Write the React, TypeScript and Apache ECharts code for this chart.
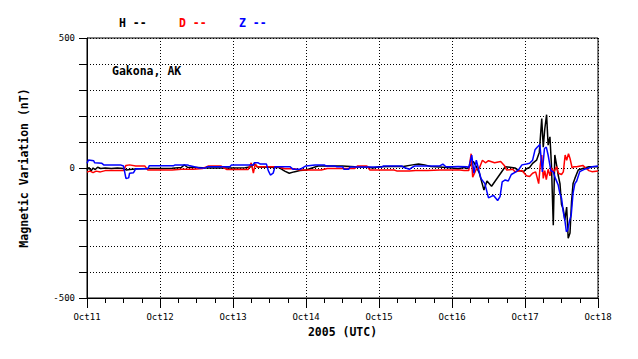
import React, { useEffect, useRef } from "react";
import * as echarts from "echarts";

// Days along the x axis (hours from Oct11 00:00 UTC)
const dayLabels = ["Oct11", "Oct12", "Oct13", "Oct14", "Oct15", "Oct16", "Oct17", "Oct18"];
const yTickLabels = [-500, 0, 500];
const legendItems = [
  { name: "H", color: "#000000" },
  { name: "D", color: "#ff0000" },
  { name: "Z", color: "#0000ff" },
];

// [hour since Oct11 00 UTC, nT]
const H_DATA: [number, number][] = [
  [0, -8], [0.7, 2], [1.3, -12], [2, 0], [2.7, -6], [3.5, 3], [4.5, -2], [6, 0], [8, -2], [10, 0], [12, -2], [13, -8], [14, -6], [16, -4], [18, -3], [20, -2], [24, -2], [28, -1], [31, 2], [32, 12], [33, 3], [36, 2], [40, 0], [44, 0], [48, 0], [52, 1], [54, 5], [55, 16], [56, 4], [60, 3], [63, 2], [65, -12], [66.5, -20], [68, -15], [70, -10], [72, -8], [74, 0], [76, 8], [80, 8], [84, 8], [88, 5], [92, 4], [94, 0], [96, 5], [100, 6], [104, 6], [107, 12], [109, 15], [111, 12], [113, 6], [116, 4], [118, 2], [120, 0], [122, -3], [124, 2], [125, -2], [126, 10], [127, 25], [128, 5], [129, -20], [130.5, -85], [131.5, -50], [133, -70], [134.5, -45], [136, -20], [137.5, 5], [139, 3], [140.7, 0], [142, -10], [143.5, -14], [144.5, -3], [145.5, 2], [146.5, 18], [147.8, 30], [148.7, 60], [149.5, 190], [150, 80], [150.5, 150], [151.1, 205], [151.6, 88], [152.2, 120], [152.7, 10], [153.3, -220], [153.8, 50], [154.4, 10], [154.9, -27], [155.5, -60], [156, -140], [156.6, -160], [157.1, -200], [157.7, -150], [158.2, -270], [158.8, -250], [159.3, -130], [159.8, -60], [160.4, -40], [161.5, -8], [163, -2], [165, 5], [168, 5],
];

const D_DATA: [number, number][] = [
  [0, -15], [1, -12], [2, -18], [3, -12], [4.4, -15], [6, -10], [9, -10], [12, -10], [12.8, 10], [14, 12], [16, 8], [19, 8], [20, -8], [24, -8], [28, -8], [31, -5], [35, -5], [38, -2], [40, 8], [44, 8], [46, -6], [50, -6], [53, -6], [54, 20], [54.7, -20], [55.3, 15], [56, 5], [60, 5], [63, 5], [65, -3], [68, -3], [70, -8], [74, -8], [77, -8], [79, -2], [84, -2], [88, -2], [89, 8], [92, 8], [93, -8], [97, -8], [101, -8], [102, -12], [106, -12], [108, -10], [112, -10], [116, -8], [120, -8], [122.6, -8], [124, -10], [125.5, -10], [126.3, 55], [126.8, -35], [128, -5], [129, 0], [130, 30], [131, 20], [132, 28], [134, 20], [136, 25], [137.2, 10], [138, -8], [140, -5], [140.7, -14], [143, -10], [144.5, -30], [145.5, -33], [146.5, -20], [147.5, -15], [148.5, -60], [149, 10], [149.5, 50], [150, -40], [150.5, -10], [151, -45], [151.6, -5], [152.2, -30], [152.7, 0], [153.5, -15], [154.4, 5], [155, -20], [156, -25], [156.6, -15], [157.2, 50], [157.7, 30], [158.3, 55], [158.8, 37], [159.5, 0], [160, 5], [161, 5], [163, 10], [164, 0], [165, -10], [166, -14], [168, -12],
];

const Z_DATA: [number, number][] = [
  [0, 18], [0.5, 31], [2.2, 28], [2.5, 20], [4.9, 18], [5.5, 12], [11, 12], [12, 8], [12.8, -40], [13.7, -38], [14, -20], [15.3, -18], [16, -3], [20, -3], [20.5, 9], [28.5, 9], [29, 12], [33, 12], [33.5, 10], [37, 0], [39, 0], [39.5, 5], [47, 5], [47.5, 12], [54.7, 12], [55, 20], [56.3, 20], [57, 15], [59, 15], [59.6, -10], [60.3, -27], [61.2, -20], [61.8, 5], [66.7, 5], [67.8, -5], [70, -5], [72, 8], [75, 12], [78, 12], [78.5, 8], [81.5, 8], [82, 5], [84, 5], [84.5, -5], [86, -5], [86.5, 4], [97, 4], [97.5, 8], [103.5, 8], [104, 3], [106, -5], [107, 3], [107.8, 8], [116, 8], [117, 15], [118, 5], [120, 5], [122, 6], [125, 5], [125.5, 0], [126.5, 50], [127.2, -20], [128, 30], [129.5, -40], [130.8, -60], [132, -115], [133.6, -105], [135, -125], [135.8, -110], [136.5, -53], [137.5, -46], [138.5, -50], [139.5, -25], [141, -15], [142, -5], [143, 12], [144.5, 15], [145.5, 18], [146.5, 30], [147.3, 70], [148, 80], [148.9, 90], [149.7, -15], [150.4, 75], [151, 80], [151.6, 50], [152.5, -10], [153.3, -15], [154, -40], [154.9, -65], [155.5, -100], [156, -115], [156.6, -170], [157.1, -200], [157.6, -245], [158, -240], [158.6, -205], [159.2, -180], [159.8, -97], [160.4, -60], [161, -50], [162, -14], [163.5, -5], [165, 0], [166, 5], [168, 8],
];

const MONO = "'DejaVu Sans Mono', 'Liberation Mono', monospace";

export default function App() {
  const ref = useRef<HTMLDivElement>(null);
  useEffect(() => {
    if (!ref.current) return;
    const chart = echarts.init(ref.current, null, { renderer: "svg" });
    const dotted = { color: "#000", width: 1, type: [1, 2] as any };
    const legendX = [119, 179, 239];
    chart.setOption({
      animation: false,
      backgroundColor: "#ffffff",
      grid: {
        left: 87,
        right: 40,
        top: 38,
        bottom: 61,
        show: true,
        borderColor: "#000",
        borderWidth: 1,
        backgroundColor: "transparent",
      },
      xAxis: {
        type: "value",
        min: 0,
        max: 168,
        interval: 24,
        axisLine: { show: true, onZero: false, lineStyle: { color: "#000", width: 1 } },
        axisTick: { show: true, length: 10, lineStyle: { color: "#000" } },
        minorTick: { show: true, splitNumber: 4, length: 5, lineStyle: { color: "#000" } },
        axisLabel: {
          color: "#000",
          fontFamily: MONO,
          fontSize: 9,
          margin: 14,
          formatter: (v: number) => dayLabels[Math.round(v / 24)] ?? "",
        },
        splitLine: { show: true, lineStyle: dotted },
        name: "2005 (UTC)",
        nameLocation: "middle",
        nameGap: 23,
        nameTextStyle: { color: "#000", fontFamily: MONO, fontSize: 11.5, fontWeight: "bold" },
      },
      yAxis: {
        type: "value",
        min: -500,
        max: 500,
        interval: 100,
        axisLine: { show: true, onZero: false, lineStyle: { color: "#000", width: 1 } },
        axisTick: { show: true, length: 8, lineStyle: { color: "#000" } },
        axisLabel: {
          color: "#000",
          fontFamily: MONO,
          fontSize: 9,
          margin: 12,
          formatter: (v: number) => (yTickLabels.includes(v) ? String(v) : ""),
        },
        splitLine: { show: true, lineStyle: dotted },
        name: "Magnetic Variation (nT)",
        nameLocation: "middle",
        nameGap: 57,
        nameTextStyle: { color: "#000", fontFamily: MONO, fontSize: 11.5, fontWeight: "bold" },
      },
      graphic: [
        ...legendItems.map((it, i) => ({
          type: "text",
          left: legendX[i],
          top: 17,
          style: {
            text: it.name + " --",
            fill: it.color,
            font: `bold 11.5px ${MONO}`,
          },
        })),
        {
          type: "text",
          left: 112,
          top: 65,
          style: { text: "Gakona, AK", fill: "#000", font: `bold 11.5px ${MONO}` },
        },
      ],
      series: [
        { name: "H", type: "line", data: H_DATA, showSymbol: false, lineStyle: { color: "#000", width: 1.5 }, itemStyle: { color: "#000" } },
        { name: "D", type: "line", data: D_DATA, showSymbol: false, lineStyle: { color: "#ff0000", width: 1.5 }, itemStyle: { color: "#ff0000" } },
        { name: "Z", type: "line", data: Z_DATA, showSymbol: false, lineStyle: { color: "#0000ff", width: 1.5 }, itemStyle: { color: "#0000ff" } },
      ],
    });
    return () => chart.dispose();
  }, []);
  return (
    <div
      ref={ref}
      style={{ position: "fixed", left: 0, top: 0, width: 638, height: 359, background: "#fff" }}
    />
  );
}
